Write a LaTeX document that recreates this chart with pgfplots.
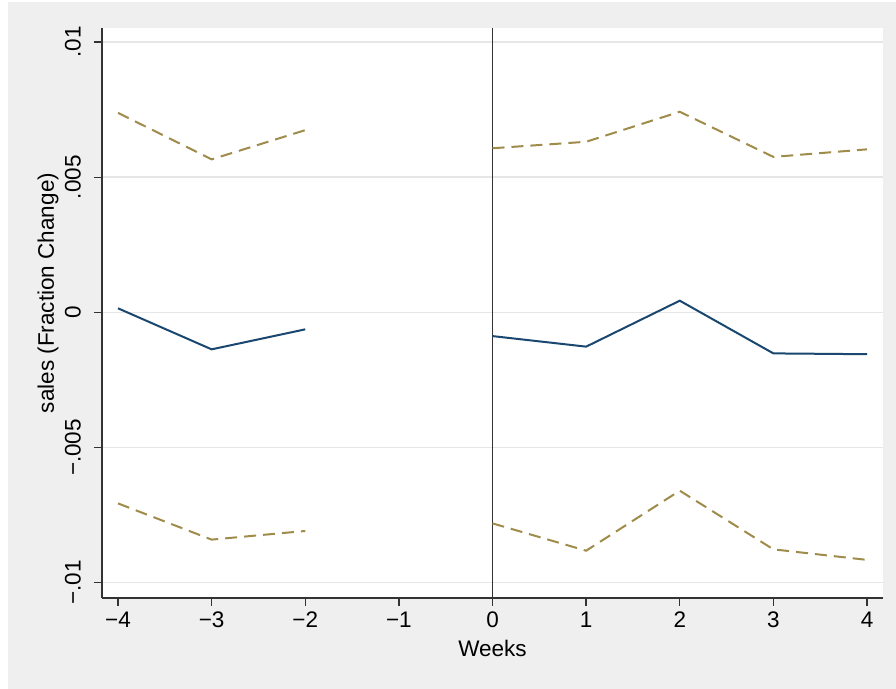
\documentclass[border=0pt]{standalone}
\usepackage{fontspec}
\setmainfont{Liberation Sans}
\usepackage{pgfplots}
\pgfplotsset{compat=1.18}

\definecolor{bggray}{HTML}{EFEFEF}
\definecolor{gridgray}{HTML}{E6E6E6}
\definecolor{axisgray}{HTML}{333333}
\definecolor{estblue}{HTML}{1A476F}
\definecolor{cisand}{HTML}{A08C4A}

\newcommand{\lblfont}{\fontsize{22.5bp}{27bp}\selectfont}

\begin{document}
\begin{tikzpicture}[x=1bp,y=1bp]
  % page and graph region
  \useasboundingbox (0,0) rectangle (896,689);
  \fill[white] (0,0) rectangle (896,689);
  \fill[bggray] (8,0) rectangle (896,687);
  \begin{axis}[
    at={(102bp,91bp)}, anchor=south west,
    scale only axis,
    width=781bp, height=570bp,
    xmin=-4.171, xmax=4.171,
    ymin=-0.01057, ymax=0.01052,
    axis background/.style={fill=white},
    axis x line*=bottom, axis y line*=left,
    axis line style={axisgray, line width=1.3bp, -},
    tick align=outside,
    major tick length=8bp,
    tick style={axisgray, line width=1.3bp},
    xtick={-4,-3,-2,-1,0,1,2,3,4},
    xticklabels={−4,−3,−2,−1,0,1,2,3,4},
    ytick={-0.01,-0.005,0,0.005,0.01},
    yticklabels={−.01,−.005,0,.005,.01},
    scaled y ticks=false,
    /pgf/number format/assume math mode=true,
    ymajorgrids,
    major grid style={gridgray, line width=1.5bp},
    xticklabel style={font=\lblfont, anchor=north, inner sep=0pt, yshift=-6bp},
    % rotated labels: the local y axis points left on the page
    yticklabel style={font=\lblfont, rotate=90, anchor=south, inner sep=0pt, yshift=13bp},
    xlabel={Weeks},
    ylabel={sales (Fraction Change)},
    xlabel style={font=\lblfont, at={(axis description cs:0.5,-0.0877)}, anchor=center, inner sep=0pt},
    ylabel style={font=\lblfont, at={(axis description cs:-0.069,0.5351)}, anchor=center, rotate=0, inner sep=0pt},
    clip=false,
  ]
    % reference line at week 0
    \addplot[axisgray, line width=1.9bp] coordinates {(0,-0.01057) (0,0.01052)};

    % point estimates, pre-period
    \addplot[estblue, line width=2bp] coordinates {
      (-4,0.000148) (-3,-0.00137) (-2,-0.00063)};
    % point estimates, post-period
    \addplot[estblue, line width=2bp] coordinates {
      (0,-0.00088) (1,-0.00127) (2,0.00043) (3,-0.00152) (4,-0.00155)};

    % upper confidence bound
    \addplot[cisand, line width=2bp, dash pattern=on 12bp off 7bp] coordinates {
      (-4,0.00738) (-3,0.00566) (-2,0.00674)};
    \addplot[cisand, line width=2bp, dash pattern=on 12bp off 7bp] coordinates {
      (0,0.00607) (1,0.00631) (2,0.00742) (3,0.00575) (4,0.00603)};

    % lower confidence bound
    \addplot[cisand, line width=2bp, dash pattern=on 12bp off 7bp] coordinates {
      (-4,-0.00707) (-3,-0.00841) (-2,-0.00809)};
    \addplot[cisand, line width=2bp, dash pattern=on 12bp off 7bp] coordinates {
      (0,-0.00781) (1,-0.00882) (2,-0.00660) (3,-0.00877) (4,-0.00916)};
  \end{axis}
\end{tikzpicture}
\end{document}
